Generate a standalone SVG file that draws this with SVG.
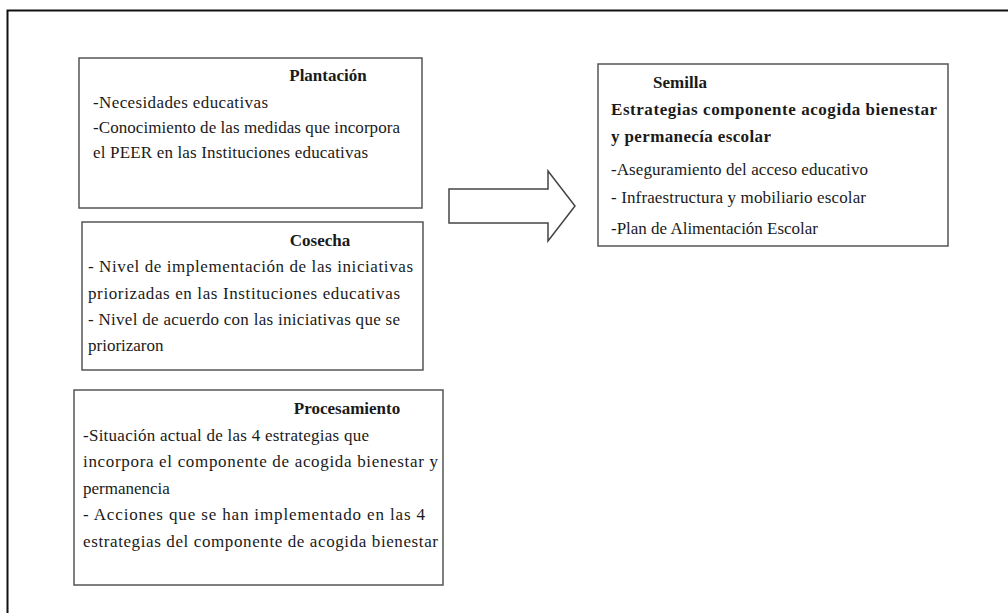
<svg xmlns="http://www.w3.org/2000/svg" width="1008" height="613" viewBox="0 0 1008 613">
<style>
.box{fill:#fff;stroke:#555;stroke-width:1.5}
.t{font-family:"Liberation Serif","Times New Roman",serif;font-size:17px;fill:#1a1a1a}
.b{font-weight:bold}
</style>
<rect x="0" y="0" width="1008" height="613" fill="#fff"/>
<path d="M7.5 620 V10.5 H1010" fill="none" stroke="#111" stroke-width="2"/>
<g id="plantacion">
<rect class="box" x="79" y="58" width="343" height="150"/>
<text class="t b" x="328" y="81" text-anchor="middle">Plantación</text>
<text class="t" x="93" y="108" textLength="175" lengthAdjust="spacing">-Necesidades educativas</text>
<text class="t" x="93" y="133" textLength="307" lengthAdjust="spacing">-Conocimiento de las medidas que incorpora</text>
<text class="t" x="93" y="158" textLength="275" lengthAdjust="spacing">el PEER en las Instituciones educativas</text>
</g>
<g id="cosecha">
<rect class="box" x="82" y="222" width="341" height="148"/>
<text class="t b" x="320" y="246" text-anchor="middle">Cosecha</text>
<text class="t" x="88" y="272" textLength="325" lengthAdjust="spacing">- Nivel de implementación de las iniciativas</text>
<text class="t" x="88" y="299" textLength="312" lengthAdjust="spacing">priorizadas en las Instituciones educativas</text>
<text class="t" x="88" y="325" textLength="312" lengthAdjust="spacing">- Nivel de acuerdo con las iniciativas que se</text>
<text class="t" x="88" y="351">priorizaron</text>
</g>
<g id="procesamiento">
<rect class="box" x="74" y="390" width="369" height="195"/>
<text class="t b" x="347" y="414" text-anchor="middle">Procesamiento</text>
<text class="t" x="83" y="441" textLength="286" lengthAdjust="spacing">-Situación actual de las 4 estrategias que</text>
<text class="t" x="83" y="467" textLength="355" lengthAdjust="spacing">incorpora el componente de acogida bienestar y</text>
<text class="t" x="83" y="494">permanencia</text>
<text class="t" x="83" y="520" textLength="342" lengthAdjust="spacing">- Acciones que se han implementado en las 4</text>
<text class="t" x="83" y="547" textLength="355" lengthAdjust="spacing">estrategias del componente de acogida bienestar</text>
</g>
<g id="semilla">
<rect class="box" x="598" y="64" width="350" height="182"/>
<text class="t b" x="680" y="88" text-anchor="middle">Semilla</text>
<text class="t b" x="611" y="115" textLength="326" lengthAdjust="spacing">Estrategias componente acogida bienestar</text>
<text class="t b" x="611" y="142" textLength="160" lengthAdjust="spacing">y permanecía escolar</text>
<text class="t" x="611" y="175" textLength="257" lengthAdjust="spacing">-Aseguramiento del acceso educativo</text>
<text class="t" x="611" y="203" textLength="255" lengthAdjust="spacing">- Infraestructura y mobiliario escolar</text>
<text class="t" x="611" y="234" textLength="207" lengthAdjust="spacing">-Plan de Alimentación Escolar</text>
</g>
<g id="connectors">
<path d="M449 189 H548 V171 L575 206 L548 241 V223 H449 Z" fill="#fff" stroke="#444" stroke-width="1.5"/>
</g>
</svg>
